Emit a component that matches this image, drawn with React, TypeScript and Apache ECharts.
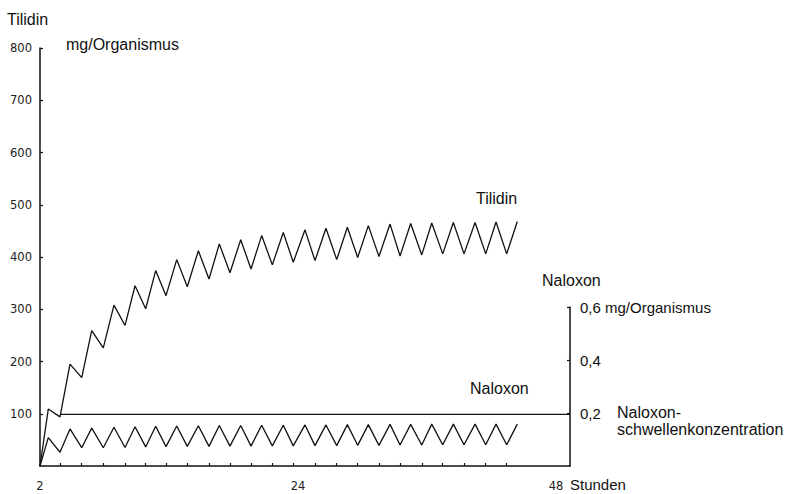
import React, { useEffect, useRef } from "react";
import * as echarts from "echarts";

// Time (hours) of each corner of the zigzag curves
const hours = [
  0, 0.77, 1.86, 2.79, 3.88, 4.81, 5.89, 6.88, 7.91, 8.84, 9.83, 10.76, 11.72,
  12.72, 13.7, 14.73, 15.72, 16.68, 17.67, 18.67, 19.63, 20.62, 21.61, 22.63,
  23.56, 24.65, 25.58, 26.6, 27.6, 28.59, 29.55, 30.54, 31.53, 32.56, 33.49,
  34.48, 35.51, 36.44, 37.46, 38.45, 39.44, 40.47, 41.46, 42.42, 43.41, 44.4,
];

// Tilidin, mg/Organismus (left axis)
const tilidin = [
  0, 109, 94, 195, 169, 259, 226, 308, 269, 345, 301, 374, 326, 395, 343, 412,
  358, 425, 370, 433, 377, 441, 385, 447, 390, 452, 393, 455, 395, 457, 399,
  460, 401, 463, 402, 464, 404, 465, 406, 466, 406, 466, 406, 467, 406, 468,
];

// Naloxon, mg/Organismus (right axis)
const naloxon = [
  0, 0.107, 0.052, 0.14, 0.069, 0.143, 0.069, 0.146, 0.07, 0.148, 0.072, 0.15,
  0.073, 0.151, 0.074, 0.152, 0.074, 0.153, 0.075, 0.153, 0.075, 0.154, 0.076,
  0.154, 0.076, 0.155, 0.077, 0.155, 0.077, 0.156, 0.078, 0.156, 0.078, 0.157,
  0.079, 0.157, 0.079, 0.158, 0.08, 0.158, 0.08, 0.158, 0.08, 0.158, 0.08,
  0.158,
];

// Dosing times marked on the time axis
const doseTimes = [
  1.86, 3.88, 5.89, 7.91, 9.83, 11.72, 13.7, 15.72, 17.67, 19.63, 21.61, 23.56,
  25.58, 27.6, 29.55, 31.53, 33.49, 35.51, 37.46, 39.44, 41.46, 43.41,
];

// Naloxon threshold line
const thresholdHours = [1.9, 49.3];
const thresholdValue = [0.195, 0.195];

// Axis labels
const xLabelValues = [0, 24, 48];
const xLabelTexts = ["2", "24", "48"];
const rightLabelTexts: Record<string, string> = {
  "0.2": "0,2",
  "0.4": "0,4",
  "0.6": "0,6 mg/Organismus",
};

const SANS = "'Liberation Sans', Arial, Helvetica, sans-serif";
const DIG = "'DejaVu Sans', sans-serif";
const INK = "#111";

export default function App() {
  const ref = useRef<HTMLDivElement>(null);

  useEffect(() => {
    if (!ref.current) return;
    const chart = echarts.init(ref.current, undefined, { renderer: "svg" });

    const lineStyle = { color: INK, width: 1.5 };
    const txt = (text: string, x: number, y: number, size = 16) => ({
      type: "text",
      x,
      y,
      style: {
        text,
        font: `${size}px ${SANS}`,
        fill: INK,
        verticalAlign: "middle",
        textVerticalAlign: "middle",
      },
    });

    chart.setOption({
      animation: false,
      backgroundColor: "#fff",
      grid: [
        { left: 40, right: 234, top: 48, bottom: 28 },
        { left: 40, right: 234, top: 307, bottom: 28 },
      ],
      xAxis: [
        {
          gridIndex: 0,
          type: "value",
          min: 0,
          max: 49.3,
          axisLine: { show: true, onZero: false, lineStyle },
          axisTick: {
            show: true,
            inside: true,
            length: 3,
            customValues: doseTimes,
            lineStyle: { color: INK, width: 1.2 },
          },
          axisLabel: {
            customValues: xLabelValues,
            formatter: (v: number) => xLabelTexts[xLabelValues.indexOf(v)] ?? "",
            margin: 14,
            fontFamily: DIG,
            fontSize: 11.5,
            color: "#222",
          },
          splitLine: { show: false },
        },
        { gridIndex: 1, type: "value", min: 0, max: 49.3, show: false },
      ],
      yAxis: [
        {
          gridIndex: 0,
          type: "value",
          min: 0,
          max: 800,
          interval: 100,
          axisLine: { show: true, onZero: false, lineStyle },
          axisTick: { show: true, inside: true, length: 3, lineStyle: { color: INK, width: 1.2 } },
          axisLabel: {
            showMinLabel: false,
            margin: 8,
            fontFamily: DIG,
            fontSize: 11.5,
            color: "#222",
          },
          splitLine: { show: false },
        },
        {
          gridIndex: 1,
          type: "value",
          position: "right",
          min: 0,
          max: 0.6,
          interval: 0.2,
          axisLine: { show: true, onZero: false, lineStyle },
          axisTick: { show: true, inside: true, length: 3, lineStyle: { color: INK, width: 1.2 } },
          axisLabel: {
            showMinLabel: false,
            margin: 10,
            fontFamily: SANS,
            fontSize: 15,
            color: INK,
            formatter: (v: number) => rightLabelTexts[v.toFixed(1)] ?? "",
          },
          splitLine: { show: false },
        },
      ],
      series: [
        {
          name: "Tilidin",
          type: "line",
          xAxisIndex: 0,
          yAxisIndex: 0,
          data: hours.map((h, i) => [h, tilidin[i]]),
          symbol: "none",
          lineStyle: { color: INK, width: 1.3 },
        },
        {
          name: "Naloxon",
          type: "line",
          xAxisIndex: 1,
          yAxisIndex: 1,
          data: hours.map((h, i) => [h, naloxon[i]]),
          symbol: "none",
          lineStyle: { color: INK, width: 1.3 },
        },
        {
          name: "Naloxonschwellenkonzentration",
          type: "line",
          xAxisIndex: 1,
          yAxisIndex: 1,
          data: thresholdHours.map((h, i) => [h, thresholdValue[i]]),
          symbol: "none",
          lineStyle: { color: INK, width: 1.4 },
        },
      ],
      graphic: [
        txt("Tilidin", 7, 19),
        txt("mg/Organismus", 66, 44),
        txt("Tilidin", 476, 198),
        txt("Naloxon", 542, 280),
        txt("Naloxon", 470, 388),
        txt("Naloxon-", 617, 412),
        txt("schwellenkonzentration", 617, 429),
        txt("Stunden", 570, 484, 15),
      ],
    });

    return () => chart.dispose();
  }, []);

  return (
    <div
      ref={ref}
      style={{ position: "fixed", left: 0, top: 0, width: 804, height: 494, background: "#fff" }}
    />
  );
}
